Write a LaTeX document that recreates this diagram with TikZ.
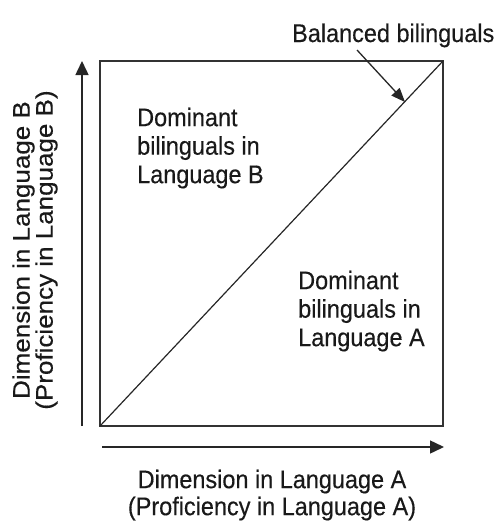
\documentclass[tikz,border=0pt]{standalone}
\usepackage{fontspec}
\setmainfont{Liberation Sans}[UprightFeatures={FakeBold=0.35}]
\usetikzlibrary{arrows.meta}
\begin{document}
\begin{tikzpicture}[x={(1.0870pt,0pt)}, y={(0pt,-1pt)}, xscale=0.92,
  every node/.append style={transform shape, inner sep=0pt, text=black!90},
  lbl/.style={font=\fontsize{25.5}{28.5}\selectfont, align=left},
  axis/.style={line width=1.5pt, black!85, -{Triangle[length=14pt,width=13pt]}},
  pointer/.style={line width=1.3pt, black!85, -{Triangle[length=14pt,width=11pt]}},
  frame/.style={line width=1.8pt, black!80},
  diag/.style={line width=1.2pt, black!85}]
\useasboundingbox (0,0) rectangle (495,525);
\coordinate (BL) at (100,426);
\coordinate (TR) at (443,61);
\draw[frame] (BL) rectangle (TR);
\draw[diag] (BL) -- (TR);
\coordinate (ys) at (82,426);
\coordinate (ye) at (82,61);
\draw[axis] (ys) -- (ye);
\coordinate (xs) at (102,447);
\coordinate (xe) at (444,447);
\draw[axis] (xs) -- (xe);
\node[lbl, anchor=base west] (bal) at (292,42) {Balanced bilinguals};
\coordinate (balStart) at (357,50);
\coordinate (balTip) at (405,102);
\draw[pointer] (balStart) -- (balTip);
\node[lbl, anchor=north west] (domB) at (137,107.5) {Dominant\\bilinguals in\\Language B};
\node[lbl, anchor=north west] (domA) at (298,270.5) {Dominant\\bilinguals in\\Language A};
\node[align=center, anchor=north, font=\fontsize{25.5}{27}\selectfont] (xlab) at (272,469.5) {Dimension in Language A\\(Proficiency in Language A)};
\node[align=center, rotate=90, font=\fontsize{26}{25}\selectfont] (ylab) at (35,250) {Dimension in Language B\\(Proficiency in Language B)};
\end{tikzpicture}
\end{document}
